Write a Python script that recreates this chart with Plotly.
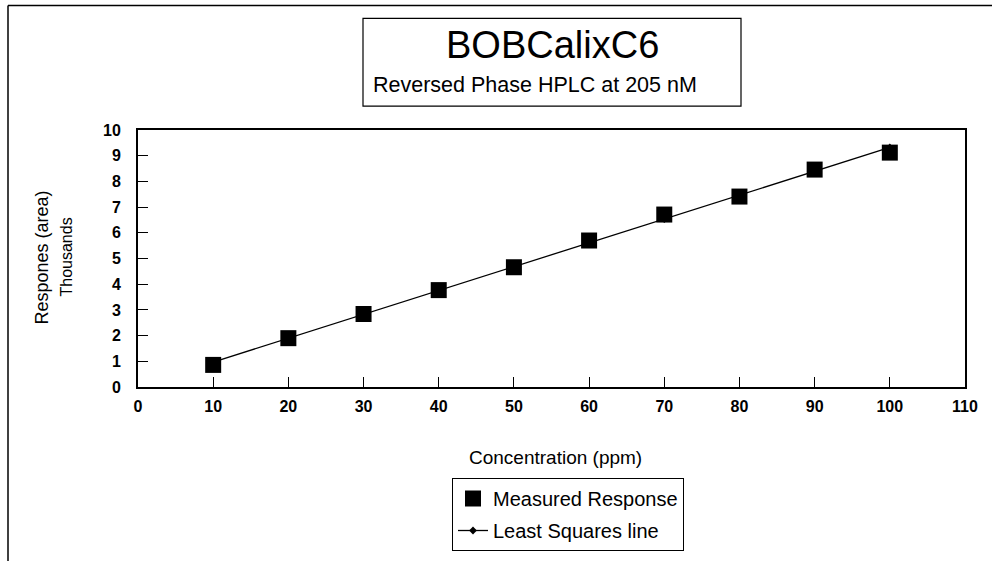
import plotly.graph_objects as go

# Calibration data: concentration (ppm) vs. detector response (thousands of area units)
concentration = [10, 20, 30, 40, 50, 60, 70, 80, 90, 100]
measured_response = [0.86, 1.90, 2.84, 3.77, 4.66, 5.70, 6.71, 7.41, 8.46, 9.12]
least_squares = [0.97, 1.90, 2.83, 3.75, 4.68, 5.61, 6.53, 7.46, 8.39, 9.32]

x_ticks = [0, 10, 20, 30, 40, 50, 60, 70, 80, 90, 100, 110]
y_ticks = [0, 1, 2, 3, 4, 5, 6, 7, 8, 9, 10]

W, H = 992, 561
L, R, T, B = 138, 965, 130, 388  # plot area in pixels

FONT = "Liberation Sans, Arial, sans-serif"


def px(x):
    return (x - L) / (R - L)


def py(y):
    return (B - y) / (B - T)


fig = go.Figure()

fig.add_trace(go.Scatter(
    x=concentration, y=least_squares, mode="lines+markers",
    name="Least Squares line", legendrank=2, legendgroup="fit",
    line=dict(color="black", width=1.3),
    marker=dict(symbol="diamond", size=6, color="black"),
))
fig.add_trace(go.Scatter(
    x=concentration, y=measured_response, mode="markers",
    name="Measured Response", legendrank=1, legendgroup="meas",
    marker=dict(symbol="square", size=16, color="black"),
))

shapes = [
    # outer frame
    dict(type="line", xref="paper", yref="paper", x0=px(8), y0=py(5), x1=px(8), y1=py(565),
         line=dict(color="black", width=1.5)),
    dict(type="line", xref="paper", yref="paper", x0=px(8), y0=py(5), x1=px(995), y1=py(5),
         line=dict(color="black", width=1.5)),
    # title box
    dict(type="rect", xref="paper", yref="paper", x0=px(363), y0=py(18), x1=px(741), y1=py(106),
         line=dict(color="black", width=1.2), fillcolor="white"),
]

annotations = [
    dict(text="BOBCalixC6", xref="paper", yref="paper", x=px(552), y=py(45),
         xanchor="center", yanchor="middle", showarrow=False,
         font=dict(family=FONT, size=38, color="black")),
    dict(text="Reversed Phase HPLC at 205 nM", xref="paper", yref="paper", x=px(371), y=py(85),
         xanchor="left", yanchor="middle", showarrow=False,
         font=dict(family=FONT, size=21.5, color="black")),
    dict(text="Respones (area)", xref="paper", yref="paper", x=px(42), y=py(258),
         xanchor="center", yanchor="middle", textangle=-90, showarrow=False,
         font=dict(family=FONT, size=18, color="black")),
    dict(text="Thousands", xref="paper", yref="paper", x=px(67), y=py(258),
         xanchor="center", yanchor="middle", textangle=-90, showarrow=False,
         font=dict(family=FONT, size=16, color="black")),
    dict(text="Concentration (ppm)", xref="paper", yref="paper", x=px(555), y=py(459),
         xanchor="center", yanchor="middle", showarrow=False,
         font=dict(family=FONT, size=19, color="black")),
]

fig.update_layout(
    width=W, height=H,
    margin=dict(l=L, r=W - R, t=T, b=H - B, pad=0),
    paper_bgcolor="white", plot_bgcolor="white",
    font=dict(family=FONT, color="black"),
    showlegend=True,
    legend=dict(
        x=px(452), y=py(478), xanchor="left", yanchor="top",
        bordercolor="black", borderwidth=1, bgcolor="white",
        font=dict(family=FONT, size=20, color="black"),
        traceorder="grouped", tracegroupgap=3, itemsizing="trace",
    ),
    shapes=shapes,
    annotations=annotations,
    xaxis=dict(
        range=[0, 110], tickvals=x_ticks, ticktext=[str(v) for v in x_ticks],
        ticks="inside", ticklen=10, tickcolor="black", tickwidth=1,
        showline=True, linecolor="black", linewidth=1.8, mirror=True,
        showgrid=False, zeroline=False,
        tickfont=dict(family=FONT, size=16, color="black", weight="bold"),
        ticklabelstandoff=4,
    ),
    yaxis=dict(
        range=[0, 10], tickvals=y_ticks, ticktext=[str(v) for v in y_ticks],
        ticks="inside", ticklen=10, tickcolor="black", tickwidth=1,
        showline=True, linecolor="black", linewidth=1.8, mirror=True,
        showgrid=False, zeroline=False,
        tickfont=dict(family=FONT, size=16, color="black", weight="bold"),
        ticklabelstandoff=12,
    ),
)

fig.write_html("out.html")
